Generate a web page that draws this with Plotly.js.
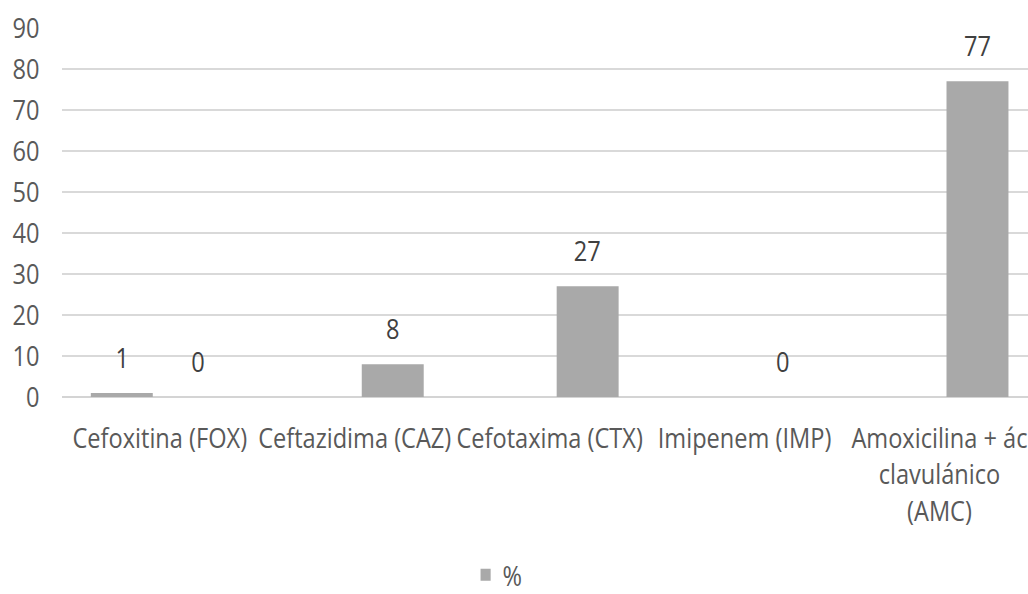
<!DOCTYPE html>
<html>
<head>
<meta charset="utf-8">
<script src="https://cdn.plot.ly/plotly-3.0.1.min.js"></script>
<style>
html,body{margin:0;padding:0;background:#fff;overflow:hidden;}
#wrap{width:1028px;height:594px;overflow:hidden;}
#chart{width:1220px;height:594px;transform:scaleX(0.8426);transform-origin:0 0;}
</style>
</head>
<body>
<div id="wrap"><div id="chart"></div></div>
<script>
// ---- data ----
const categories = ["Cefoxitina (FOX)", "Ceftazidima (CAZ)", "Cefotaxima (CTX)", "Imipenem (IMP)", "Amoxicilina + ác<br>clavulánico<br>(AMC)"];
const seriesA = [1, null, null, null, null];
const seriesB = [0, 8, 27, 0, 77];
const seriesName = "%";
const yTicks = [0, 10, 20, 30, 40, 50, 60, 70, 80, 90];

// ---- style ----
const FONT = "Open Sans, Noto Sans, sans-serif";
const barColor = "#a9a9a9";
const labelColor = "#404040";
const axisColor = "#595959";
const groupShift = 45;

const traces = [
  {type: "bar", x: categories, y: seriesA, name: seriesName, showlegend: false,
   marker: {color: barColor}, hoverinfo: "skip"},
  {type: "bar", x: categories, y: seriesB, name: seriesName, showlegend: true,
   marker: {color: barColor}, hoverinfo: "skip"}
];

const annotations = [];
[[seriesA, -groupShift], [seriesB, groupShift]].forEach(([vals, shift]) => {
  vals.forEach((v, i) => {
    if (v === null) return;
    annotations.push({x: categories[i], y: v, xref: "x", yref: "y", text: String(v),
      showarrow: false, xshift: shift, yanchor: "bottom", yshift: 15,
      font: {family: FONT, size: 28, color: labelColor}});
  });
});

const layout = {
  width: 1220, height: 594,
  margin: {l: 73.6, r: 0, t: 28, b: 197, pad: 0},
  paper_bgcolor: "#ffffff", plot_bgcolor: "#ffffff",
  font: {family: FONT, size: 28, color: axisColor},
  barmode: "group", bargap: 0.22, bargroupgap: 0.185,
  xaxis: {type: "category", range: [-0.5, 4.454], showgrid: false, zeroline: false,
    showline: false, ticks: "", tickangle: 0, ticklabelstandoff: 22, automargin: false,
    tickfont: {family: FONT, size: 28, color: axisColor}, fixedrange: true},
  yaxis: {range: [0, 90], tickvals: yTicks, showgrid: true, gridcolor: "#d9d9d9", gridwidth: 1.5,
    zeroline: true, zerolinecolor: "#d4d4d4", zerolinewidth: 2, showline: false, ticks: "",
    ticklabelstandoff: 26, automargin: false, tickfont: {family: FONT, size: 28, color: axisColor}, fixedrange: true},
  showlegend: true,
  legend: {orientation: "h", xref: "container", yref: "container", x: 0.456, xanchor: "left",
    y: 0.032, yanchor: "middle", font: {family: FONT, size: 28, color: axisColor},
    itemwidth: 30, bgcolor: "rgba(0,0,0,0)"},
  annotations: annotations
};

Plotly.newPlot("chart", traces, layout, {staticPlot: true, displayModeBar: false});
</script>
</body>
</html>
